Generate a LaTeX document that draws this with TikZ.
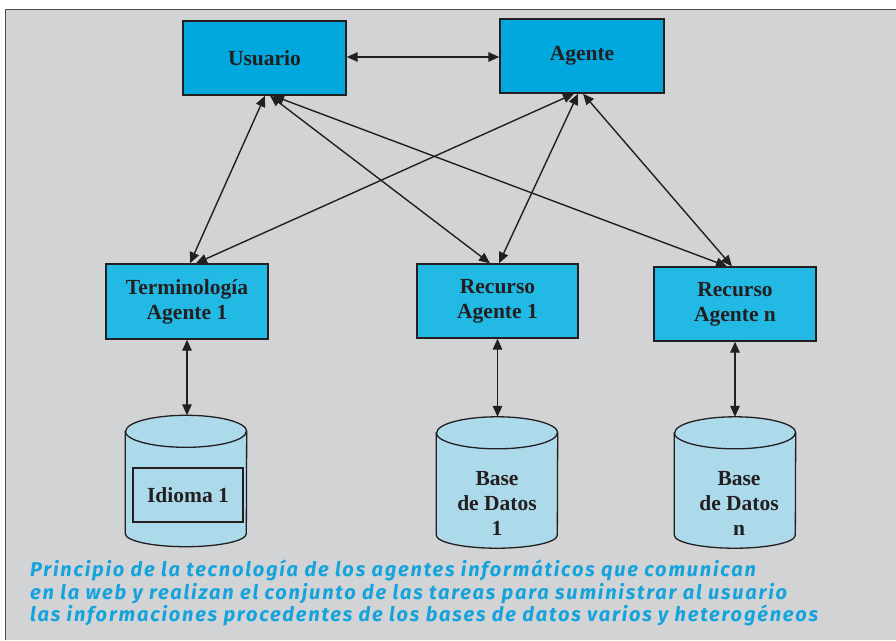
\documentclass[tikz,border=0pt]{standalone}
\usepackage{fontspec}
\setmainfont{Liberation Serif}
\newfontfamily\capfont[LetterSpace=9]{Fira Sans}
\usetikzlibrary{arrows.meta}
\definecolor{bg}{HTML}{D1D3D4}
\definecolor{topc}{HTML}{00A8DE}
\definecolor{midc}{HTML}{22B9E5}
\definecolor{cylc}{HTML}{ADDAEB}
\definecolor{capc}{HTML}{14A3DC}
\definecolor{ink}{HTML}{231F20}
\tikzset{
  boxfont/.style={font=\fontsize{21.5}{25}\selectfont\bfseries, text=ink},
  topbox/.style={draw=ink, line width=1.4pt, fill=topc, inner sep=0pt,
    minimum width=163pt, minimum height=74pt, align=center, boxfont},
  midbox/.style={draw=ink, line width=1.4pt, fill=midc, inner sep=0pt,
    minimum width=162pt, minimum height=74pt, align=center, boxfont},
  cylbox/.style={inner sep=0pt, minimum width=121pt, minimum height=131pt},
  cyltext/.style={align=center, inner sep=0pt, boxfont},
  cylfill/.style={draw=ink, line width=1.3pt, fill=cylc},
  cylline/.style={draw=ink, line width=1.3pt},
  dbl/.style={draw=ink, line width=1.4pt,
    {Triangle[length=11pt,width=9.5pt]}-{Triangle[length=11pt,width=9.5pt]}},
}
\newcommand\drawcyl[1]{%
  \path[cylfill] ([yshift=-16pt]#1.north west) -- ([yshift=13pt]#1.south west)
    arc[start angle=180,end angle=360,x radius=60.5pt,y radius=13pt]
    -- ([yshift=-16pt]#1.north east)
    arc[start angle=0,end angle=180,x radius=60.5pt,y radius=16pt] -- cycle;
  \draw[cylline] ([yshift=-16pt]#1.north west)
    arc[start angle=180,end angle=360,x radius=60.5pt,y radius=16pt];}
\begin{document}
\begin{tikzpicture}[x=1pt,y=-1pt]
\useasboundingbox (0,0) rectangle (896,640);
\fill[bg] (5,9) rectangle (896,640);
\draw[ink!80, line width=1pt] (5,640) -- (5,9) -- (896,9);

\node[topbox] (u) at (264.5,58) {Usuario};
\node[topbox, minimum width=164pt] (a) at (582,56) {Agente};
\node[midbox, minimum height=75pt] (t) at (187,301.5) {Terminología\\Agente 1};
\node[midbox, minimum width=161pt] (r1) at (497.5,301) {Recurso\\Agente 1};
\node[midbox] (rn) at (735,304) {Recurso\\Agente n};

\path node[cylbox] (c1) at (186,481) {};
\path node[cylbox] (c2) at (497,482.5) {};
\path node[cylbox] (c3) at (735,482.5) {};
\drawcyl{c1}
\drawcyl{c2}
\drawcyl{c3}
\node[draw=ink, line width=1.2pt, minimum width=110pt, minimum height=54pt,
  inner sep=0pt, boxfont] (i1) at (188,495) {Idioma 1};
\node[cyltext] (c2t) at (497,503) {Base\\de Datos\\1};
\node[cyltext] (c3t) at (739,503) {Base\\de Datos\\n};

\draw[dbl] ([yshift=1pt]u.east) -- ([yshift=-1pt]a.west);
\draw[dbl] ([xshift=0.5pt]u.south) -- ([xshift=3pt]t.north);
\draw[dbl] ([xshift=5.5pt]u.south) -- ([xshift=-7.5pt]r1.north);
\draw[dbl] ([xshift=8.5pt]u.south) -- ([xshift=-8pt]rn.north);
\draw[dbl] ([xshift=-8pt]a.south) -- ([xshift=9pt]t.north);
\draw[dbl] ([xshift=-4pt]a.south) -- ([xshift=1.5pt]r1.north);
\draw[dbl] ([xshift=1pt]a.south) -- ([xshift=-3pt]rn.north);
\draw[dbl] (t.south) -- (t.south |- c1.north);
\draw[dbl] (r1.south) -- (r1.south |- c2.north);
\draw[dbl] (rn.south) -- (rn.south |- c3.north);

\node[anchor=north west, inner sep=0pt, align=left, text=capc,
  font=\capfont\bfseries\itshape\fontsize{20}{22.5}\selectfont] (cap) at (30,560)
  {Principio de la tecnología de los agentes informáticos que comunican\\
   en la web y realizan el conjunto de las tareas para suministrar al usuario\\
   las informaciones procedentes de los bases de datos varios y heterogéneos};
\end{tikzpicture}
\end{document}
